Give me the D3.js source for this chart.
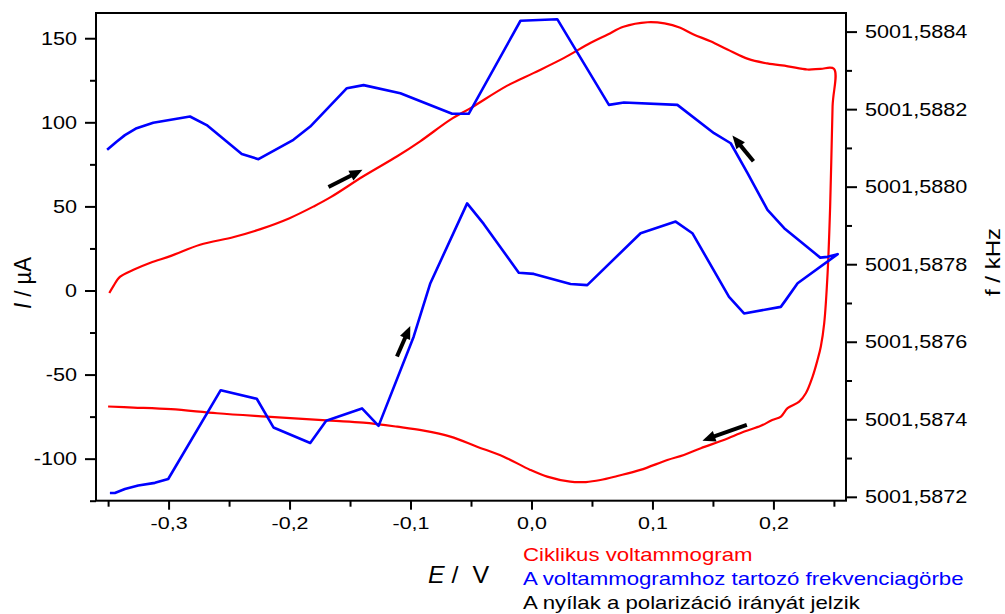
<!DOCTYPE html>
<html lang="hu">
<head>
<meta charset="UTF-8">
<title>Ciklikus voltammogram és frekvenciagörbe</title>
<script src="https://cdn.jsdelivr.net/npm/d3@7"></script>
<style>
  body { margin: 0; padding: 0; background: #fff; }
  svg { display: block; font-family: Arial, "Liberation Sans", sans-serif; }
</style>
</head>
<body>
<div id="chart"></div>
<script>
// ciklikus voltammogram: E (V) es I (uA), elore majd vissza
const cvE = [-0.349, -0.346, -0.340, -0.329, -0.315, -0.298, -0.274, -0.246, -0.224, -0.200,
  -0.180, -0.166, -0.139, -0.111, -0.092, -0.067, -0.050, -0.020, 0.002, 0.027,
  0.049, 0.063, 0.076, 0.096, 0.110, 0.123, 0.134, 0.148, 0.162, 0.179,
  0.195, 0.212, 0.228, 0.239, 0.250,
  0.2489, 0.2469, 0.2448, 0.2420, 0.2392, 0.2365, 0.2324, 0.2268, 0.2213, 0.2117,
  0.2062, 0.199, 0.1896, 0.176, 0.159, 0.140, 0.126, 0.1123, 0.090, 0.071,
  0.057, 0.045, 0.032, 0.013, -0.001, -0.023, -0.045, -0.067, -0.089, -0.111,
  -0.139, -0.166, -0.219, -0.260, -0.298, -0.329, -0.350];
const cvI = [-1.5, 2.2, 8.2, 12.3, 16.5, 20.6, 27.2, 31.8, 36.5, 43.0,
  50.0, 55.5, 67.9, 79.8, 88.7, 101.6, 108.6, 121.8, 129.4, 138.3,
  147.3, 152.2, 156.8, 159.5, 158.8, 156.2, 152.2, 148.2, 143.3, 137.7,
  135.0, 133.3, 131.4, 131.8, 131.8,
  109.5, 50.0, 10.4, -19.4, -33.3, -41.2, -51.2, -61.1, -66.1, -70.0,
  -75.0, -77.0, -80.5, -83.9, -88.9, -93.8, -97.8, -100.8, -106.7, -110.3,
  -112.7, -113.9, -113.7, -110.7, -106.7, -98.8, -92.9, -86.9, -83.3, -81.0,
  -78.6, -77.4, -75.0, -73.0, -70.6, -69.6, -69.0];

// frekvenciagorbe: E (V) es f (kHz)
const fE = [-0.3485, -0.3444, -0.3361, -0.3251, -0.3113, -0.3003, -0.2569, -0.2271, -0.2133, -0.1829,
  -0.1697, -0.1401, -0.1264, -0.0974, -0.0836, -0.0532, -0.0395, -0.0105, 0.0019, 0.0323,
  0.0461, 0.0902, 0.1192, 0.1330, 0.1633, 0.1757, 0.2061, 0.2103, 0.2200, 0.2531,
  0.2448, 0.2387, 0.2089, 0.1951, 0.1786, 0.1647, 0.1509, 0.1206, 0.0764, 0.0640,
  0.0213, -0.0091, -0.0519, -0.0656, -0.1084, -0.1388, -0.1526, -0.1829, -0.1968, -0.2257,
  -0.2395, -0.2685, -0.2823, -0.3127, -0.3264, -0.3361, -0.3430, -0.3508];
const fKHz = [5001.58721, 5001.58721, 5001.58722, 5001.587229, 5001.587236, 5001.587246, 5001.587475, 5001.587453, 5001.587379, 5001.587339,
  5001.587396, 5001.587428, 5001.587383, 5001.587613, 5001.587751, 5001.587957, 5001.587904, 5001.587778, 5001.587775, 5001.587749,
  5001.587746, 5001.58788, 5001.58791, 5001.58788, 5001.587716, 5001.587673, 5001.58769, 5001.587708, 5001.587751, 5001.587826,
  5001.587819, 5001.587817, 5001.587893, 5001.58794, 5001.588035, 5001.588112, 5001.588138, 5001.588211, 5001.588217, 5001.588211,
  5001.588432, 5001.588428, 5001.588188, 5001.588188, 5001.588241, 5001.588262, 5001.588254, 5001.588155, 5001.588121, 5001.588071,
  5001.588084, 5001.588159, 5001.588181, 5001.588165, 5001.588151, 5001.588133, 5001.588116, 5001.588095];

// nyilak (E, I) kezdo- es vegpontja
const arrowFrom = [[-0.1678, 61.5], [-0.1112, -39.3], [0.1835, 76.8], [0.178, -79.9]];
const arrowTo = [[-0.1397, 71.8], [-0.1002, -21.1], [0.1661, 92.1], [0.1413, -89.3]];

// tengelyek
const xTicks = [-0.3, -0.2, -0.1, 0.0, 0.1, 0.2];
const xTickLabels = ["-0,3", "-0,2", "-0,1", "0,0", "0,1", "0,2"];
const xMinor = [-0.35, -0.25, -0.15, -0.05, 0.05, 0.15, 0.25];
const iTicks = [-100, -50, 0, 50, 100, 150];
const iMinor = [-125, -75, -25, 25, 75, 125];
const fTicks = [5001.5872, 5001.5874, 5001.5876, 5001.5878, 5001.5880, 5001.5882, 5001.5884];
const fTickLabels = ["5001,5872", "5001,5874", "5001,5876", "5001,5878", "5001,5880", "5001,5882", "5001,5884"];
const fMinor = [5001.5873, 5001.5875, 5001.5877, 5001.5879, 5001.5881, 5001.5883];

const legendLines = [
  { text: "Ciklikus voltammogram", color: "#ff0000" },
  { text: "A voltammogramhoz tartozó frekvenciagörbe", color: "#0000ff" },
  { text: "A nyílak a polarizáció irányát jelzik", color: "#000000" }
];

const width = 1005, height = 614;
const mLeft = 96, mRight = 846, mTop = 13, mBottom = 500.7;

const svg = d3.select("#chart").append("svg")
  .attr("width", width).attr("height", height);

const x = d3.scaleLinear().domain([-0.36, 0.26]).range([mLeft, mRight]);
const yI = d3.scaleLinear().domain([-125, 165]).range([mBottom, mTop]);
const yF = d3.scaleLinear().domain([5001.58719, 5001.588448]).range([mBottom, mTop]);

// keret
svg.append("rect")
  .attr("x", mLeft).attr("y", mTop)
  .attr("width", mRight - mLeft).attr("height", mBottom - mTop)
  .attr("fill", "none").attr("stroke", "#000").attr("stroke-width", 2);

function styleAxis(g) {
  g.select(".domain").remove();
  g.selectAll("line").attr("stroke", "#000").attr("stroke-width", 2);
}

// bal tengely
svg.append("g").attr("transform", `translate(${mLeft},0)`)
  .call(d3.axisLeft(yI).tickValues(iMinor).tickSize(6).tickFormat(""))
  .call(styleAxis);
svg.append("g").attr("class", "yl").attr("transform", `translate(${mLeft},0)`)
  .call(d3.axisLeft(yI).tickValues(iTicks).tickSize(11).tickPadding(8).tickFormat(d => String(d)))
  .call(styleAxis);

// jobb tengely
svg.append("g").attr("transform", `translate(${mRight},0)`)
  .call(d3.axisRight(yF).tickValues(fMinor).tickSize(6).tickFormat(""))
  .call(styleAxis);
svg.append("g").attr("class", "yr").attr("transform", `translate(${mRight},0)`)
  .call(d3.axisRight(yF).tickValues(fTicks).tickSize(11).tickPadding(8)
    .tickFormat((d, i) => fTickLabels[i]))
  .call(styleAxis);

// also tengely
svg.append("g").attr("transform", `translate(0,${mBottom})`)
  .call(d3.axisBottom(x).tickValues(xMinor).tickSize(6).tickFormat(""))
  .call(styleAxis);
svg.append("g").attr("class", "xb").attr("transform", `translate(0,${mBottom})`)
  .call(d3.axisBottom(x).tickValues(xTicks).tickSize(9).tickPadding(8)
    .tickFormat((d, i) => xTickLabels[i]))
  .call(styleAxis);

svg.selectAll(".yl text, .yr text")
  .attr("font-size", "18.5px").attr("font-family", "Arial, 'Liberation Sans', sans-serif")
  .attr("fill", "#000").attr("data-k", 1.17);
svg.selectAll(".xb text")
  .attr("font-size", "16.5px").attr("font-family", "Arial, 'Liberation Sans', sans-serif")
  .attr("fill", "#000").attr("data-k", 1.3);

// gorbek
const cvData = cvE.map((e, i) => [e, cvI[i]]);
const fData = fE.map((e, i) => [e, fKHz[i]]);

svg.append("path")
  .datum(cvData)
  .attr("fill", "none").attr("stroke", "#ff0000").attr("stroke-width", 2.2)
  .attr("stroke-linejoin", "round")
  .attr("d", d3.line().curve(d3.curveCatmullRom.alpha(0.5)).x(d => x(d[0])).y(d => yI(d[1])));

svg.append("path")
  .datum(fData)
  .attr("fill", "none").attr("stroke", "#0000ff").attr("stroke-width", 2.6)
  .attr("stroke-linejoin", "round")
  .attr("d", d3.line().x(d => x(d[0])).y(d => yF(d[1])));

// nyilak
arrowFrom.forEach((a, i) => {
  const x0 = x(a[0]), y0 = yI(a[1]);
  const x1 = x(arrowTo[i][0]), y1 = yI(arrowTo[i][1]);
  const dx = x1 - x0, dy = y1 - y0, len = Math.hypot(dx, dy);
  const ux = dx / len, uy = dy / len;
  const hl = 13, hw = 5.5;
  svg.append("line")
    .attr("x1", x0).attr("y1", y0)
    .attr("x2", x1 - ux * (hl - 2)).attr("y2", y1 - uy * (hl - 2))
    .attr("stroke", "#000").attr("stroke-width", 4);
  const bx = x1 - ux * hl, by = y1 - uy * hl;
  svg.append("polygon")
    .attr("points", [[x1, y1], [bx - uy * hw, by + ux * hw], [bx + uy * hw, by - ux * hw]].map(p => p.join(",")).join(" "))
    .attr("fill", "#000");
});

// tengelyfeliratok
const eLab = svg.append("text")
  .attr("x", 428).attr("y", 582.5)
  .attr("font-size", "24px").attr("fill", "#000").attr("data-k", 1.04)
  .style("white-space", "pre");
eLab.append("tspan").attr("font-style", "italic").text("E");
eLab.append("tspan").text(" /  V");

const iLab = svg.append("text")
  .attr("transform", "translate(31,283) rotate(-90)")
  .attr("text-anchor", "middle")
  .attr("font-size", "24px").attr("fill", "#000").attr("data-k", 0.92);
iLab.append("tspan").attr("font-style", "italic").text("I");
iLab.append("tspan").text(" / µA");

svg.append("text")
  .attr("transform", "translate(1000,262) rotate(-90)")
  .attr("text-anchor", "middle")
  .attr("font-size", "20px").attr("fill", "#000").attr("data-k", 1.2)
  .text("f / kHz");

// jelmagyarazat
svg.selectAll(".leg").data(legendLines).enter().append("text")
  .attr("class", "leg")
  .attr("x", 523).attr("y", (d, i) => 561 + i * 23.8)
  .attr("font-size", "18.5px").attr("fill", d => d.color).attr("data-k", 1.2)
  .text(d => d.text);

// szovegek szelessegenek igazitasa
svg.selectAll("text[data-k]").each(function () {
  const k = +this.getAttribute("data-k");
  const w = this.getComputedTextLength();
  this.setAttribute("textLength", (w * k).toFixed(1));
  this.setAttribute("lengthAdjust", "spacingAndGlyphs");
});
</script>
</body>
</html>
